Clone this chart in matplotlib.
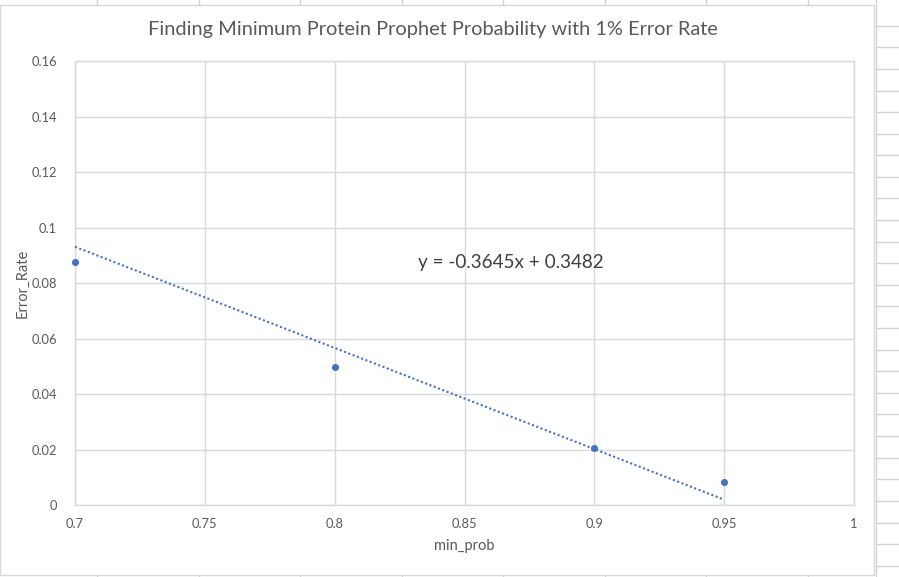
import matplotlib
matplotlib.use("Agg")
import matplotlib.pyplot as plt
from matplotlib.patches import Rectangle
import numpy as np

plt.rcParams['font.family'] = ['Lato', 'DejaVu Sans']

# Data
min_prob = [0.70, 0.80, 0.90, 0.95]
error_rate = [0.0875, 0.0497, 0.0206, 0.0084]
trend_slope = -0.3645
trend_intercept = 0.3482
x_ticks = [0.7, 0.75, 0.8, 0.85, 0.9, 0.95, 1.0]
x_tick_labels = ["0.7", "0.75", "0.8", "0.85", "0.9", "0.95", "1"]
y_ticks = [0, 0.02, 0.04, 0.06, 0.08, 0.1, 0.12, 0.14, 0.16]
y_tick_labels = ["0", "0.02", "0.04", "0.06", "0.08", "0.1", "0.12", "0.14", "0.16"]

W, H = 899, 577
fig = plt.figure(figsize=(W / 100, H / 100), dpi=100)

# Worksheet backdrop with cell borders
bg = fig.add_axes([0, 0, 1, 1], zorder=0)
bg.set_xlim(0, W)
bg.set_ylim(H, 0)
bg.axis("off")
cell_col = "#d4d4d4"
for xc in np.arange(97, 880, 101.5):
    bg.plot([xc, xc], [0, 5], color=cell_col, lw=1)
    bg.plot([xc, xc], [575, H], color=cell_col, lw=1)
for yc in np.arange(25.7, H, 21.6):
    bg.plot([876, W], [yc, yc], color=cell_col, lw=1)
bg.plot([876, 876], [0, H], color=cell_col, lw=1)
bg.add_patch(Rectangle((0, 5), 874, 570, facecolor="white",
                       edgecolor="#d9d9d9", lw=1, zorder=2))

text_col = "#595959"
blue = "#4472C4"

ax = fig.add_axes([75 / W, 1 - 505 / H, (854 - 75) / W, (505 - 61) / H], zorder=1)
ax.patch.set_alpha(0)

xs = np.array([min(min_prob), max(min_prob)])
ax.plot(xs, trend_slope * xs + trend_intercept, color=blue, lw=1.5,
        linestyle=(0, (1, 1.2)), zorder=3, clip_on=False)
ax.scatter(min_prob, error_rate, s=26, color=blue, zorder=4, clip_on=False,
           linewidths=0)

ax.set_xlim(0.7, 1.0)
ax.set_ylim(0, 0.16)
ax.set_xticks(x_ticks)
ax.set_xticklabels(x_tick_labels)
ax.set_yticks(y_ticks)
ax.set_yticklabels(y_tick_labels)
ax.tick_params(length=0, labelsize=9.3, labelcolor=text_col)
ax.tick_params(axis="y", pad=13)
ax.tick_params(axis="x", pad=9)
ax.grid(True, color="#d9d9d9", lw=1)
ax.set_axisbelow(True)
for s in ax.spines.values():
    s.set_color("#d9d9d9")
    s.set_linewidth(1)

ax.set_xlabel("min_prob", fontsize=10.5, color=text_col)
ax.set_ylabel("Error_Rate", fontsize=10.5, color=text_col)
ax.xaxis.set_label_coords(0.5, (505 - 546) / 444, transform=ax.transAxes)
ax.yaxis.set_label_coords((23 - 75) / 779, 0.5, transform=ax.transAxes)
ax.xaxis.label.set_va("center")
ax.yaxis.label.set_va("center")

ax.text(0.868, 0.0875, f"y = {trend_slope}x + {trend_intercept}",
        fontsize=13.6, color="#404040", ha="center", va="center")

fig.text(433 / W, 1 - 29 / H,
         "Finding Minimum Protein Prophet Probability with 1% Error Rate",
         fontsize=14.4, color=text_col, ha="center", va="center")

fig.savefig("out.png", dpi=100)
